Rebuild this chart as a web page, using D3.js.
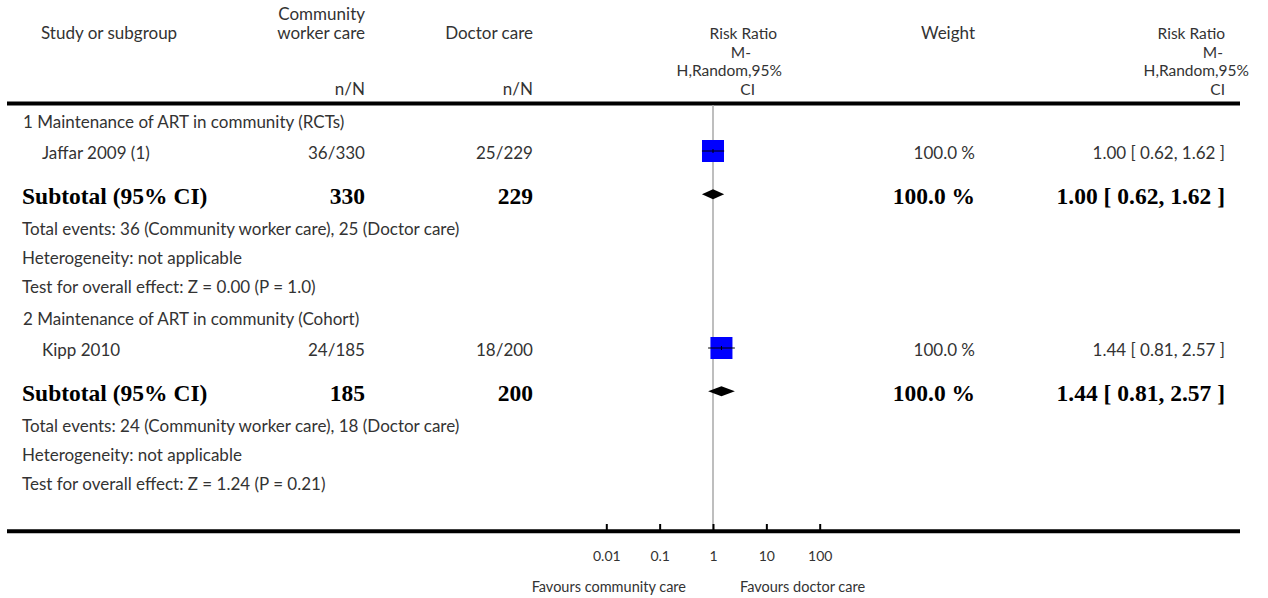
<!DOCTYPE html>
<html>
<head>
<meta charset="utf-8">
<script src="https://cdn.jsdelivr.net/npm/d3@7"></script>
<style>
  body { margin: 0; background: #fff; }
  text { font-family: Lato, "Open Sans", sans-serif; fill: #333; }
  .bold { font-family: "Liberation Serif", "DejaVu Serif", serif; font-weight: bold; fill: #000; }
</style>
</head>
<body>
<svg id="chart" width="1268" height="598"></svg>
<script>
// data
const groupLabels = ['1 Maintenance of ART in community (RCTs)', '2 Maintenance of ART in community (Cohort)'];
const studyNames = ['Jaffar 2009 (1)', 'Kipp 2010'];
const cwEvents = ['36/330', '24/185'];
const docEvents = ['25/229', '18/200'];
const riskRatio = [1.00, 1.44];
const ciLow = [0.62, 0.81];
const ciHigh = [1.62, 2.57];
const weights = ['100.0 %', '100.0 %'];
const subtotalCw = [330, 185];
const subtotalDoc = [229, 200];
const totalEvents = [
  'Total events: 36 (Community worker care), 25 (Doctor care)',
  'Total events: 24 (Community worker care), 18 (Doctor care)'
];
const heterogeneity = ['Heterogeneity: not applicable', 'Heterogeneity: not applicable'];
const overallEffect = ['Test for overall effect: Z = 0.00 (P = 1.0)', 'Test for overall effect: Z = 1.24 (P = 0.21)'];
const tickValues = [0.01, 0.1, 1, 10, 100];
const tickLabels = ['0.01', '0.1', '1', '10', '100'];

const svg = d3.select('#chart');
const fmt = d => d.toFixed(2);
const REG = '17px', BOLD = '23.5px';

const x = d3.scaleLog().domain([0.01, 100]).range([606.3, 819.7]);

// column right edges
const colCw = 365, colDoc = 533, colWeight = 975, colRR = 1225;

// header
const head = svg.append('g').attr('class', 'header').style('font-size', REG);
const headText = (t, xx, yy, anchor) => head.append('text')
  .attr('x', xx).attr('y', yy).attr('text-anchor', anchor || 'end').text(t);
headText('Study or subgroup', 41, 39, 'start');
headText('Community', colCw, 20);
headText('worker care', colCw, 39);
headText('n/N', colCw, 95);
headText('Doctor care', colDoc, 39);
headText('n/N', colDoc, 95);
headText('Weight', colWeight, 39);

// stacked risk ratio headings (tighter lines)
const stack = (xs) => {
  const lines = ['Risk Ratio', 'M-', 'H,Random,95%', 'CI'];
  const ys = [39, 57.5, 76, 95];
  lines.forEach((t, k) => headText(t, xs[k], ys[k]).style('font-size', '15.5px'));
};
stack([777, 751, 782, 755]);
stack([colRR, colRR - 2, colRR + 24, colRR]);

// rules
svg.append('line').attr('x1', 7).attr('x2', 1240).attr('y1', 103.5).attr('y2', 103.5)
  .attr('stroke', '#000').attr('stroke-width', 4);

// line of no effect
svg.append('line').attr('x1', x(1)).attr('x2', x(1)).attr('y1', 105).attr('y2', 530)
  .attr('stroke', '#a8a8a8').attr('stroke-width', 1.5);

// groups
const groupStep = 197;
groupLabels.forEach((label, i) => {
  const g = svg.append('g').attr('transform', `translate(0,${i * groupStep})`);
  const reg = g.append('g').style('font-size', REG);

  reg.append('text').attr('x', 23).attr('y', 128).text(label);
  reg.append('text').attr('x', 42).attr('y', 159).text(studyNames[i]);
  reg.append('text').attr('x', colCw).attr('y', 159).attr('text-anchor', 'end').text(cwEvents[i]);
  reg.append('text').attr('x', colDoc).attr('y', 159).attr('text-anchor', 'end').text(docEvents[i]);
  reg.append('text').attr('x', colWeight).attr('y', 159).attr('text-anchor', 'end').text(weights[i]);
  reg.append('text').attr('x', colRR).attr('y', 159).attr('text-anchor', 'end')
    .text(`${fmt(riskRatio[i])} [ ${fmt(ciLow[i])}, ${fmt(ciHigh[i])} ]`);

  // study square and CI
  const sq = 22;
  g.append('rect')
    .attr('x', x(riskRatio[i]) - sq / 2).attr('y', 151 - sq / 2)
    .attr('width', sq).attr('height', sq).attr('fill', '#0000ff');
  g.append('line').attr('x1', x(ciLow[i])).attr('x2', x(ciHigh[i]))
    .attr('y1', 151).attr('y2', 151).attr('stroke', '#000').attr('stroke-width', 1);
  g.append('line').attr('x1', x(riskRatio[i])).attr('x2', x(riskRatio[i]))
    .attr('y1', 149).attr('y2', 153).attr('stroke', '#000').attr('stroke-width', 1);

  // subtotal row
  const b = g.append('g').attr('class', 'sub').style('font-size', BOLD);
  b.append('text').attr('class', 'bold').attr('x', 22).attr('y', 204).text('Subtotal (95% CI)');
  b.append('text').attr('class', 'bold').attr('x', colCw).attr('y', 204).attr('text-anchor', 'end').text(subtotalCw[i]);
  b.append('text').attr('class', 'bold').attr('x', colDoc).attr('y', 204).attr('text-anchor', 'end').text(subtotalDoc[i]);
  b.append('text').attr('class', 'bold').attr('x', colWeight).attr('y', 204).attr('text-anchor', 'end').text(weights[i]);
  b.append('text').attr('class', 'bold').attr('x', colRR).attr('y', 204).attr('text-anchor', 'end')
    .text(`${fmt(riskRatio[i])} [ ${fmt(ciLow[i])}, ${fmt(ciHigh[i])} ]`);

  // diamond
  const dy = 194.3, dh = 5;
  g.append('path')
    .attr('d', `M${x(ciLow[i])},${dy}L${x(riskRatio[i])},${dy - dh}L${x(ciHigh[i])},${dy}L${x(riskRatio[i])},${dy + dh}Z`)
    .attr('fill', '#000');

  reg.append('text').attr('x', 22).attr('y', 235).text(totalEvents[i]);
  reg.append('text').attr('x', 22).attr('y', 264).text(heterogeneity[i]);
  reg.append('text').attr('x', 22).attr('y', 293).text(overallEffect[i]);
});

// bottom axis
svg.append('line').attr('x1', 7).attr('x2', 1240).attr('y1', 531.3).attr('y2', 531.3)
  .attr('stroke', '#000').attr('stroke-width', 4);

const axis = svg.append('g')
  .attr('class', 'axis')
  .attr('transform', 'translate(0,530)')
  .call(d3.axisBottom(x)
    .tickValues(tickValues)
    .tickFormat((d, i) => tickLabels[i])
    .tickSizeInner(-6)
    .tickSizeOuter(0)
    .tickPadding(21));
axis.select('.domain').remove();
axis.selectAll('.tick line').attr('stroke', '#000').attr('stroke-width', 2);
axis.selectAll('.tick text')
  .style('font-family', 'Lato, sans-serif').style('font-size', '14px').attr('fill', '#333');

svg.append('text').attr('x', 686).attr('y', 592).attr('text-anchor', 'end')
  .style('font-size', '14.5px').text('Favours community care');
svg.append('text').attr('x', 740).attr('y', 592).attr('text-anchor', 'start')
  .style('font-size', '14.5px').text('Favours doctor care');
</script>
</body>
</html>
